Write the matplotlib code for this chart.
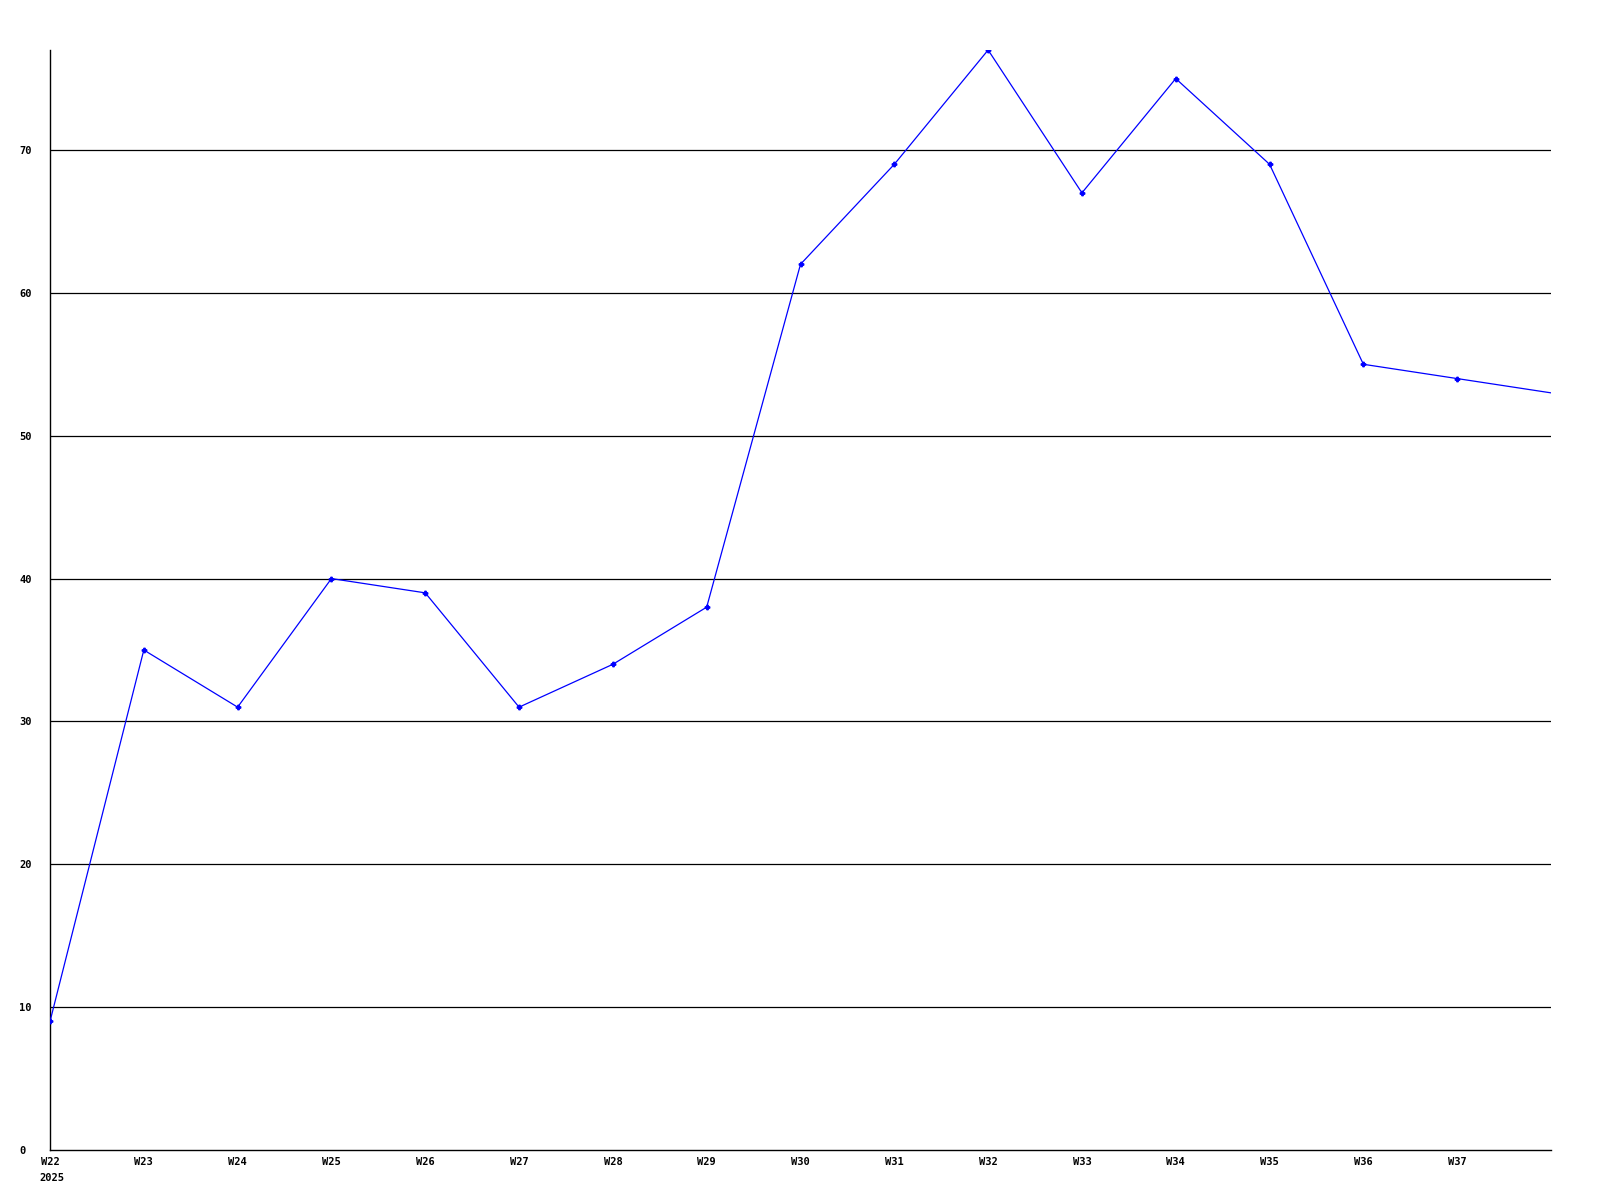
import matplotlib
matplotlib.use("Agg")
import matplotlib.pyplot as plt
from matplotlib.transforms import blended_transform_factory

weeks = ["W22", "W23", "W24", "W25", "W26", "W27", "W28", "W29",
         "W30", "W31", "W32", "W33", "W34", "W35", "W36", "W37", "W38"]
values = [9, 35, 31, 40, 39, 31, 34, 38, 62, 69, 77, 67, 75, 69, 55, 54, 53]
year_label = "2025"
y_ticks = [0, 10, 20, 30, 40, 50, 60, 70]

font = {"family": "DejaVu Sans Mono", "weight": "bold", "size": 7.5}

fig = plt.figure(figsize=(16, 12), dpi=100)
ax = fig.add_axes([50 / 1600, 50 / 1200, 1501 / 1600, 1100 / 1200])

x = list(range(len(weeks)))
ax.plot(x, values, color="#0000ff", linewidth=0.9, zorder=3)
ax.plot(x[:-1], values[:-1], linestyle="none", marker="P", markersize=3.2,
        color="#0000ff", zorder=4)

ax.set_xlim(0, len(weeks) - 1)
ax.set_ylim(0, 77)

for yv in y_ticks[1:]:
    ax.axhline(yv, color="black", linewidth=0.9, zorder=1)

ax.set_yticks(y_ticks)
ax.set_yticklabels([str(v) for v in y_ticks], fontdict=font, ha="left")
ax.set_xticks(x[:-1])
ax.set_xticklabels(weeks[:-1], fontdict=font)
ax.tick_params(axis="both", length=0)
ax.tick_params(axis="y", pad=22)
ax.tick_params(axis="x", pad=5)

trans = blended_transform_factory(ax.transData, ax.transAxes)
ax.text(-0.11, -0.021, year_label, transform=trans, ha="left", va="top", **font)

for side in ["top", "right"]:
    ax.spines[side].set_visible(False)
for side in ["left", "bottom"]:
    ax.spines[side].set_linewidth(1.0)
    ax.spines[side].set_color("black")

fig.savefig("out.png", dpi=100)
